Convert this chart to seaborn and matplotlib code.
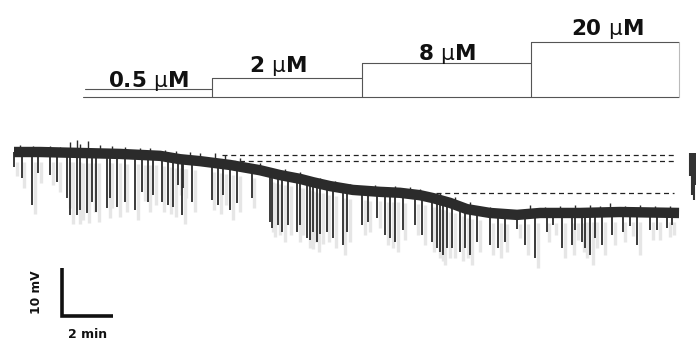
import numpy as np
import pandas as pd
import matplotlib
matplotlib.use("Agg")
import matplotlib.pyplot as plt
import seaborn as sns

# ---------------- data (time in min, membrane potential in mV relative) -------------
base_t = [0.0, 1.02, 2.59, 4.16, 5.73, 6.51, 7.29, 8.47, 9.65, 10.43, 11.22, 11.73,
          12.39, 13.29, 14.35, 15.14, 15.92, 16.43, 17.10, 17.76, 18.67, 19.73, 20.63,
          22.20, 23.76, 26.08]
base_v = [0.0, 0.0, -0.2, -0.4, -0.8, -1.5, -1.9, -2.7, -3.8, -4.8, -5.6, -6.3,
          -7.1, -7.9, -8.3, -8.5, -9.0, -9.6, -10.6, -11.9, -12.7, -13.1, -12.7,
          -12.7, -12.5, -12.7]

# upward noise peaks: time (min) and peak potential (mV)
bump_t = [0.24, 0.75, 1.41, 1.80, 2.20, 2.47, 2.59, 2.90, 3.37, 3.84, 4.35, 4.94,
          5.33, 5.92, 6.35, 6.90, 7.29, 7.88, 8.27, 8.86, 9.65, 10.63, 11.22, 12.00,
          12.59, 13.18, 13.57, 14.16, 14.94, 15.53, 15.92, 16.71, 17.29, 17.88,
          18.67, 19.45, 20.24, 20.82, 21.41, 22.00, 22.59, 22.98, 23.37, 23.96,
          24.55, 25.14, 25.73]
bump_v = [1.46, 1.25, 1.25, 1.04, 2.08, 2.50, 1.67, 2.29, 1.46, 1.25, 1.04, 0.83,
          0.83, 0.42, 0.21, 0.0, -0.21, -0.21, -0.63, -1.25, -2.29, -3.54, -4.17,
          -5.42, -6.04, -6.67, -7.08, -6.88, -7.08, -7.29, -7.71, -8.54, -9.38,
          -10.42, -11.46, -12.08, -11.04, -11.46, -11.25, -11.04, -11.04, -11.25,
          -10.63, -11.25, -11.04, -11.25, -11.25]

# downward events: time (min) and tip potential (mV)
spike_t = [0.0, 0.31, 0.71, 0.94, 1.41, 1.69, 2.08, 2.20, 2.47, 2.59, 2.86, 3.06,
           3.22, 3.65, 3.76, 4.04, 4.35, 4.75, 5.02, 5.25, 5.45, 5.80, 6.04, 6.24,
           6.43, 6.63, 6.59, 6.98, 7.76, 8.00, 8.20, 8.47, 8.75, 9.33, 10.04, 10.12,
           10.35, 10.51, 10.75, 11.10, 11.22, 11.49, 11.61, 11.73, 11.88, 12.00,
           12.27, 12.51, 12.90, 13.06, 13.65, 13.88, 14.24, 14.55, 14.75, 14.94,
           15.25, 15.73, 16.00, 16.39, 16.59, 16.71, 16.82, 16.98, 17.18, 17.49,
           17.69, 17.88, 18.16, 18.67, 18.98, 19.25, 19.73, 20.04, 20.43, 20.90,
           21.14, 21.49, 21.88, 22.00, 22.27, 22.39, 22.59, 22.78, 23.06, 23.45,
           23.88, 24.16, 24.43, 24.94, 25.22, 25.61, 25.80]
spike_v = [-3.1, -5.4, -11.0, -4.4, -4.8, -6.3, -9.6, -13.1, -13.1, -12.1, -12.7,
           -10.4, -12.5, -11.7, -9.6, -11.5, -10.4, -12.1, -8.3, -10.4, -9.0, -10.4,
           -11.0, -11.5, -6.9, -7.5, -13.1, -10.4, -10.0, -11.0, -9.0, -12.1, -10.6,
           -9.6, -14.6, -15.8, -15.2, -16.7, -15.2, -16.7, -15.2, -17.9, -18.3,
           -16.7, -18.8, -17.1, -16.7, -17.9, -19.4, -16.7, -15.2, -14.6, -13.8,
           -17.3, -17.9, -18.8, -16.3, -15.2, -17.3, -18.8, -20.0, -20.8, -21.5,
           -20.0, -20.0, -20.8, -20.0, -21.5, -18.8, -19.4, -20.0, -18.8, -16.0,
           -19.4, -22.1, -16.7, -15.2, -20.0, -19.4, -16.3, -18.8, -20.0, -21.5,
           -17.9, -19.4, -17.3, -16.7, -15.4, -19.4, -16.3, -16.3, -15.8, -15.2]

# drug application protocol
conc_values = ["0.5", "2", "8", "20"]
conc_start = [2.78, 7.76, 13.65, 20.27]
conc_end = [7.76, 13.65, 20.27, 26.08]

# reference levels (dashed)
ref_levels = [-0.6, -1.9, -8.5]
ref_start = [8.16, 8.16, 16.55]
ref_end = [25.88, 25.88, 25.88]

# scale bar
bar_min = 2
bar_mv = 10

# ---------------- layout: axes spans whole figure, data mapped to pixels -----------
PX_PER_MIN = 25.5
PX_PER_MV = 4.8
X0_PX = 14
Y0_PX = 152
W, H = 696, 343


def tx(px):
    return (px - X0_PX) / PX_PER_MIN


def vy(py):
    return (Y0_PX - py) / PX_PER_MV


sns.set_style("white")
plt.rcParams["mathtext.fontset"] = "dejavusans"
fig = plt.figure(figsize=(W / 100, H / 100), dpi=100)
ax = fig.add_axes([0, 0, 1, 1])
ax.set_xlim(tx(0), tx(W))
ax.set_ylim(vy(H), vy(0))
ax.axis("off")

trace_col = "#2b2b2b"

# spikes (attached to the local baseline)
sp_top = np.interp(spike_t, base_t, base_v)
ax.vlines(np.array(spike_t) + 0.1, np.array(spike_v) - 2.0, sp_top - 2,
          color="#e6e6e6", lw=2.4, zorder=1)
ax.vlines(spike_t, spike_v, sp_top, color=trace_col, lw=1.3, zorder=2)

# upward noise peaks
bp_base = np.interp(bump_t, base_t, base_v)
ax.vlines(bump_t, bp_base, bump_v, color=trace_col, lw=1.0, zorder=3)

# trace band
df = pd.DataFrame({"t": base_t, "v": base_v})
sns.lineplot(data=df, x="t", y="v", ax=ax, color=trace_col, lw=7.5,
             solid_capstyle="butt", zorder=3)

# dashed reference lines
for lv, s, e in zip(ref_levels, ref_start, ref_end):
    ax.plot([s, e], [lv, lv], ls=(0, (4, 3)), color="#222222", lw=0.9, zorder=2)

# partial neighbouring trace at right edge
ax.vlines([tx(690), tx(692), tx(694), tx(696)], [vy(176), vy(195), vy(200), vy(185)],
          vy(153), color="#333333", lw=1.5)
ax.fill_between([tx(689), tx(696)], vy(175), vy(153), color="#333333", lw=0)

# drug application steps
base_py = 97
level_py = [89, 78, 63, 42]
label_px = [148, 278, 447, 607]
label_py = [87, 72, 60, 35]
line_col = "#555555"
ax.plot([tx(83), conc_end[-1]], [vy(base_py), vy(base_py)], color=line_col, lw=0.8)
for i, (val, s, e) in enumerate(zip(conc_values, conc_start, conc_end)):
    ax.plot([s, e], [vy(level_py[i]), vy(level_py[i])], color=line_col, lw=0.8)
    if i > 0:
        ax.plot([s, s], [vy(base_py), vy(level_py[i])], color=line_col, lw=0.8)
    ax.text(tx(label_px[i]), vy(label_py[i]),
            val + r" $\mathrm{\mu}$M",
            ha="center", va="baseline", fontsize=15.5, fontweight="bold",
            color="#111111")
ax.plot([conc_end[-1], conc_end[-1]], [vy(base_py), vy(level_py[-1])],
        color="#bbbbbb", lw=0.8)

# scale bar
sx, sy = tx(62), vy(316)
ax.plot([sx, sx, sx + bar_min], [sy + bar_mv, sy, sy], color="#111111", lw=2.6,
        solid_joinstyle="miter", solid_capstyle="butt")
ax.text(tx(37), sy + bar_mv / 2, f"{bar_mv} mV", rotation=90, ha="center",
        va="center", fontsize=8.8, fontweight="bold", color="#111111")
ax.text(sx + bar_min / 2, vy(335), f"{bar_min} min", ha="center", va="center",
        fontsize=9, fontweight="bold", color="#111111")

fig.savefig("out.png", dpi=100)
